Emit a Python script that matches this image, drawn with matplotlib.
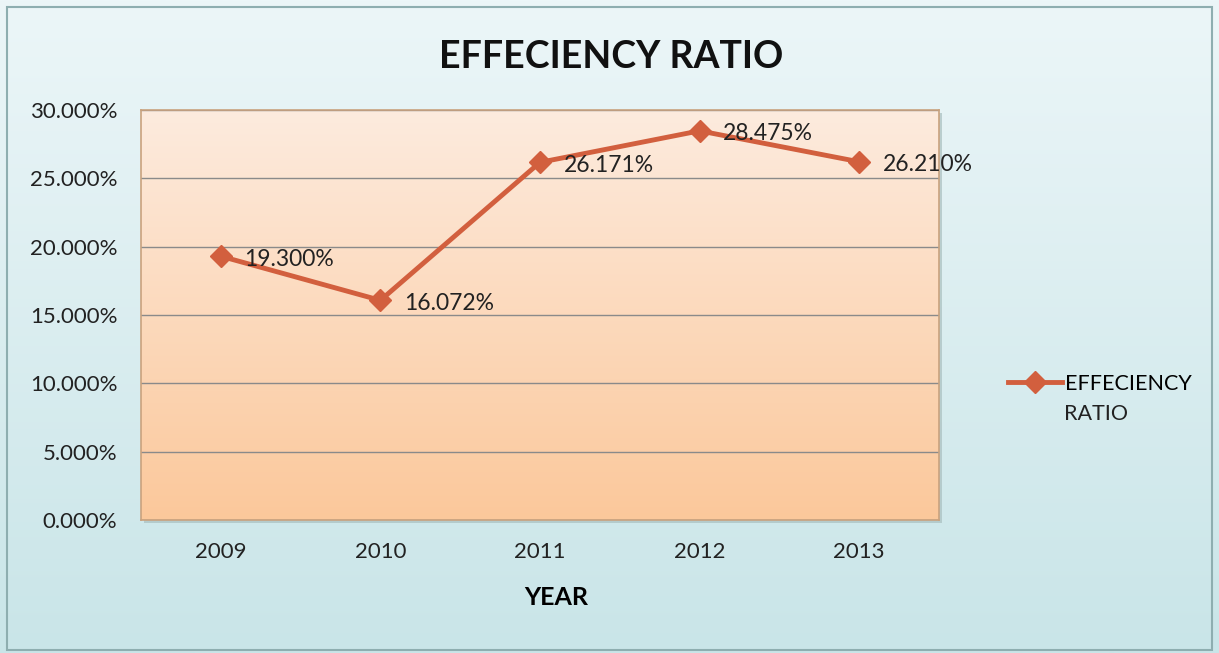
import numpy as np
import matplotlib.pyplot as plt
from matplotlib.colors import LinearSegmentedColormap
from matplotlib.patches import Rectangle

years = ['2009', '2010', '2011', '2012', '2013']
ratio = [0.19300, 0.16072, 0.26171, 0.28475, 0.26210]
labels = ['19.300%', '16.072%', '26.171%', '28.475%', '26.210%']

plt.rcParams['font.family'] = ['Lato', 'DejaVu Sans']

fig = plt.figure(figsize=(12.19, 6.53), dpi=100)

# figure background gradient
bg = fig.add_axes([0, 0, 1, 1], zorder=-10)
bg_cmap = LinearSegmentedColormap.from_list('bg', ['#c9e5e8', '#ecf6f8'])
bg.imshow(np.linspace(0, 1, 256).reshape(-1, 1), cmap=bg_cmap, aspect='auto',
          extent=[0, 1, 0, 1], origin='lower')
bg.add_patch(Rectangle((7 / 1219, 3 / 653), 1205 / 1219, 643 / 653, fill=False,
                       edgecolor='#8eaeb0', linewidth=1.5))
# soft shadow under the plot area
bg.add_patch(Rectangle((144 / 1219, 130 / 653), 798 / 1219, 410 / 653,
                       facecolor='#a9bfbf', edgecolor='none', alpha=0.7))
bg.set_xlim(0, 1)
bg.set_ylim(0, 1)
bg.axis('off')

# plot area
ax = fig.add_axes([141 / 1219, 133 / 653, 798 / 1219, 410 / 653])
ax.set_facecolor('none')
pa_cmap = LinearSegmentedColormap.from_list('pa', ['#fbc89b', '#fdebde'])
ax.imshow(np.linspace(0, 1, 256).reshape(-1, 1), cmap=pa_cmap, aspect='auto',
          extent=[-0.5, 4.5, 0, 0.30], origin='lower', zorder=0)

x = np.arange(len(years))
ax.set_xlim(-0.5, 4.5)
ax.set_ylim(0, 0.30)
ticks = np.arange(0, 0.301, 0.05)
ax.set_yticks(ticks)
ax.set_yticklabels([f'{v * 100:.3f}%' for v in ticks])
ax.set_xticks(x)
ax.set_xticklabels(years)
ax.yaxis.grid(True, color='#8a8a8a', linewidth=1)
ax.tick_params(length=0, labelsize=16, colors='#222222')
ax.tick_params(axis='x', pad=16)
ax.tick_params(axis='y', pad=17)
for s in ax.spines.values():
    s.set_color('#c9a27e')
    s.set_linewidth(1.2)

ax.plot(x, ratio, color='#d25f3e', linewidth=3.5, marker='D', markersize=11,
        label='EFFECIENCY', zorder=5)

for xi, yi, lb in zip(x, ratio, labels):
    ax.annotate(lb, (xi, yi), xytext=(17, -2), textcoords='offset points',
                fontsize=16.5, color='#222222', va='center', ha='left',
                annotation_clip=False, zorder=6)

ax.set_xlabel('YEAR', fontsize=18, fontweight='bold')
ax.xaxis.set_label_coords((556 - 141) / 798, -0.16)

fig.text(0.501, 0.912, 'EFFECIENCY RATIO', fontsize=27, fontweight='bold',
         ha='center', va='center', color='#111111')

fig.legend(loc='center left', bbox_to_anchor=(1008 / 1219, 1 - 384 / 653),
           frameon=False, fontsize=15.5, handlelength=2.5, handletextpad=0.15,
           borderaxespad=0, borderpad=0)
fig.text(1064 / 1219, 1 - 414 / 653, 'RATIO', fontsize=15.5, color='#222222',
         ha='left', va='center')

fig.savefig('out.png', dpi=100)
